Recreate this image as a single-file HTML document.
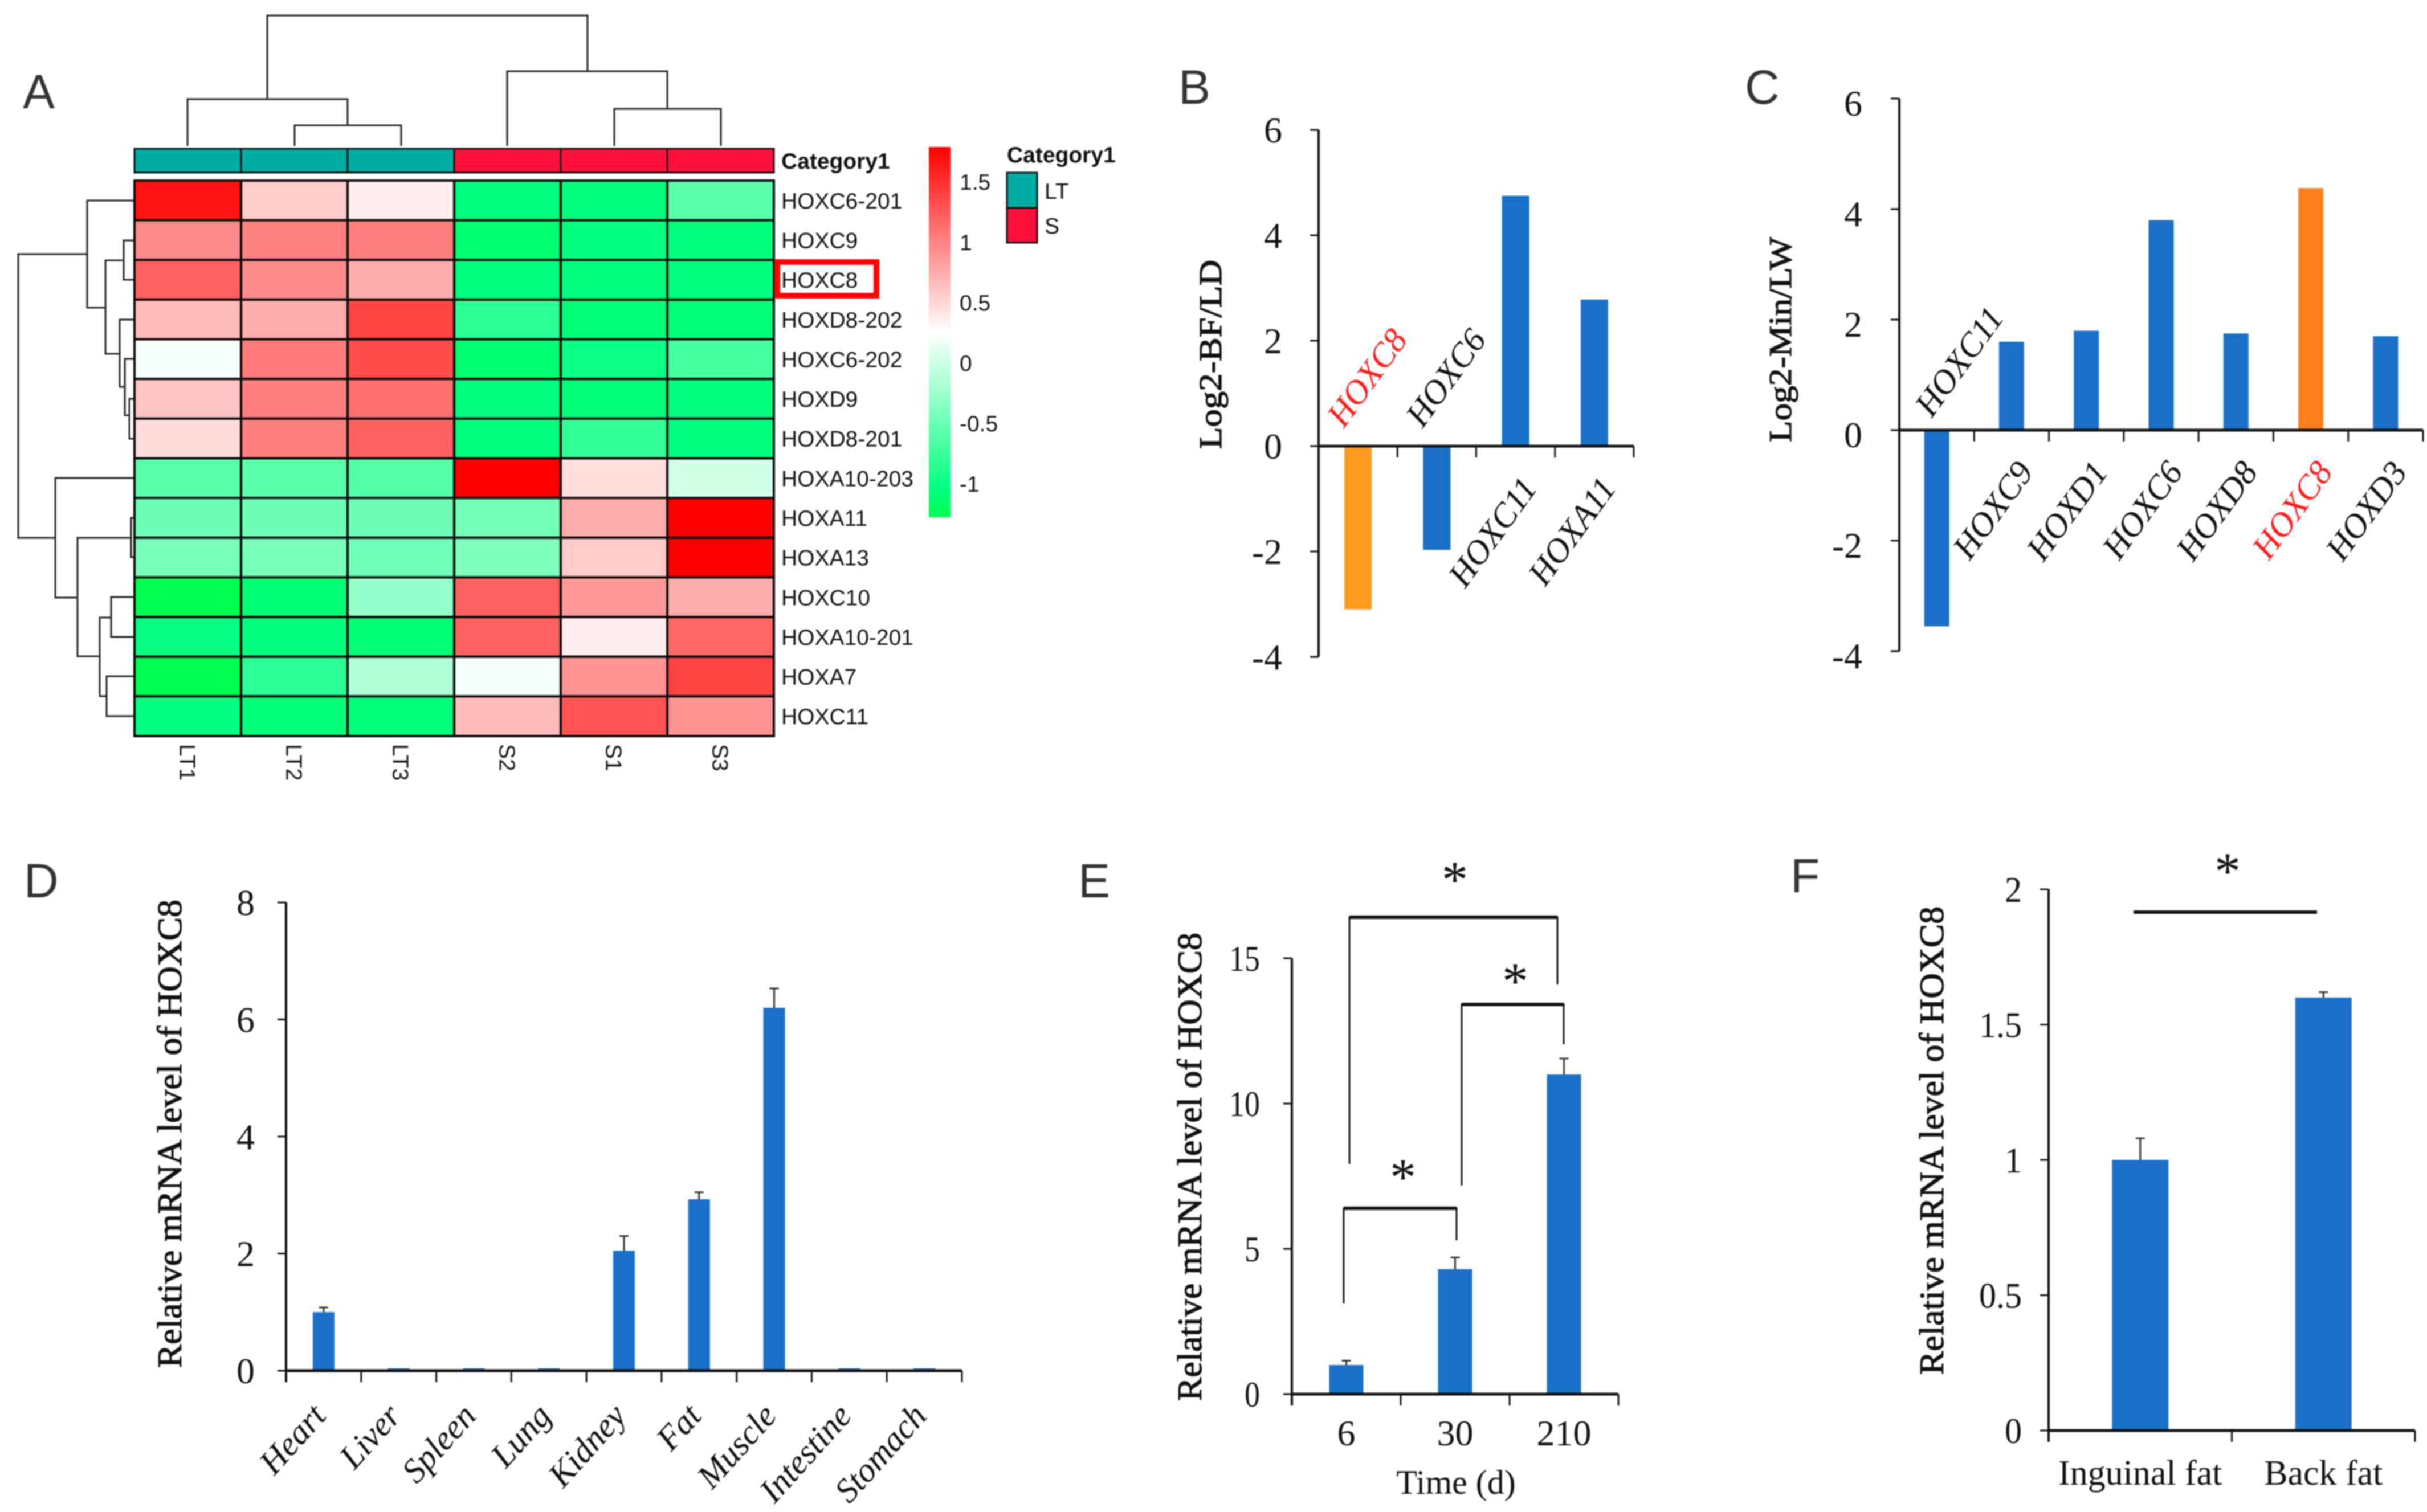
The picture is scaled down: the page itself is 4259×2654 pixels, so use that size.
<!DOCTYPE html>
<html lang="en">
<head>
<meta charset="utf-8">
<title>HOXC8 expression figure</title>
<style>
html,body{margin:0;padding:0;background:#fff;}
svg{display:block;filter:blur(1px);}
.letter{font-family:"Liberation Sans",sans-serif;font-size:84px;fill:#333;}
</style>
</head>
<body>
<svg id="figure" xmlns="http://www.w3.org/2000/svg" width="4259" height="2654" viewBox="0 0 4259 2654">
  <defs>
    <linearGradient id="heat-gradient" x1="0" y1="0" x2="0" y2="1">
      <stop offset="0" stop-color="#ff0000"/>
      <stop offset="0.5" stop-color="#ffffff"/>
      <stop offset="0.925" stop-color="#00ff7f"/>
      <stop offset="1" stop-color="#00ff50"/>
    </linearGradient>
  </defs>
  <rect width="4259" height="2654" fill="#fff"/>

  <text class="letter" x="40" y="190">A</text>
  <text class="letter" x="2068" y="182">B</text>
  <text class="letter" x="3062" y="182">C</text>
  <text class="letter" x="42" y="1575">D</text>
  <text class="letter" x="1892" y="1575">E</text>
  <text class="letter" x="3142" y="1566">F</text>

  <g>
    <path fill="none" stroke="#222" stroke-width="3"
      d="M469 174V27H1031V125M329 256V174H610V220M517 256V220H704V256M890 256V125H1171V191M1078 256V191H1265V256"/>
    <path fill="none" stroke="#222" stroke-width="3"
      d="M97 944H32V446H153M236 352H153V540H185M217 457H185V621H210M236 422H217V491H236M236 561H210V679H219M236 630H219V729H227M236 700H227V770H236M236 839H97V1049H136M230 944H136V1152H175M236 909H230V978H236M195 1084H175V1222H187M236 1048H195V1118H236M236 1187H187V1257H236"/>
    <g id="heat-annotation"></g>
    <g id="heat-cells"></g>
    <g id="heat-labels"></g>
    <rect x="1364" y="460" width="174" height="59" fill="none" stroke="#ff0000" stroke-width="10"/>
    <rect x="1630" y="258" width="38" height="650" fill="url(#heat-gradient)"/>
    <g id="heat-scale-labels"></g>
    <text x="1767" y="285" font-family="Liberation Sans, sans-serif" font-weight="bold" font-size="39" fill="#111">Category1</text>
    <rect x="1767" y="290" width="53" height="62" fill="#00ada3" stroke="#111" stroke-width="3" transform="translate(0 13)"/>
    <rect x="1767" y="365" width="53" height="61" fill="#ff103c" stroke="#111" stroke-width="3"/>
    <text x="1833" y="349" font-family="Liberation Sans, sans-serif" font-size="39" fill="#111">LT</text>
    <text x="1833" y="410" font-family="Liberation Sans, sans-serif" font-size="39" fill="#111">S</text>
  </g>

  <g id="panel-b"></g>
  <g id="panel-c"></g>
  <g id="panel-d"></g>
  <g id="panel-e"></g>
  <g id="panel-f"></g>

  <g font-family="Liberation Serif, serif" font-size="92" text-anchor="middle" fill="#111">
    <path fill="none" stroke="#111" stroke-width="3" d="M2368 2043V1610H2733V1728"/>
    <line x1="2368" x2="2733" y1="1610" y2="1610" stroke="#111" stroke-width="6"/>
    <path fill="none" stroke="#111" stroke-width="3" d="M2565 2081V1763H2744V1833"/>
    <line x1="2565" x2="2744" y1="1763" y2="1763" stroke="#111" stroke-width="6"/>
    <path fill="none" stroke="#111" stroke-width="3" d="M2358 2288V2121H2556V2177"/>
    <line x1="2358" x2="2556" y1="2121" y2="2121" stroke="#111" stroke-width="6"/>
    <text x="2553" y="1575">*</text>
    <text x="2659" y="1753">*</text>
    <text x="2462" y="2097">*</text>
  </g>
  <g font-family="Liberation Serif, serif" font-size="92" text-anchor="middle" fill="#111">
    <line x1="3744" x2="4066" y1="1601" y2="1601" stroke="#111" stroke-width="6"/>
    <text x="3909" y="1560">*</text>
  </g>
</svg>

<script>
/* ---------- Panel A data ---------- */
const heatRows = ["HOXC6-201","HOXC9","HOXC8","HOXD8-202","HOXC6-202","HOXD9","HOXD8-201","HOXA10-203","HOXA11","HOXA13","HOXC10","HOXA10-201","HOXA7","HOXC11"];
const heatCols = ["LT1","LT2","LT3","S2","S1","S3"];
const heatGroups = ["LT","LT","LT","S","S","S"];
const heatValues = [
  [1.67,0.56,0.36,-1.05,-1.05,-0.59],
  [0.94,1.00,1.02,-1.12,-1.03,-1.06],
  [1.20,0.94,0.74,-1.05,-1.05,-1.06],
  [0.66,0.75,1.37,-0.84,-1.08,-1.08],
  [0.20,1.05,1.32,-1.12,-1.00,-0.70],
  [0.60,1.02,1.10,-1.06,-1.08,-1.06],
  [0.46,1.02,1.20,-1.06,-0.79,-1.05],
  [-0.59,-0.59,-0.62,1.78,0.45,0.02],
  [-0.49,-0.49,-0.50,-0.47,0.75,1.78],
  [-0.44,-0.44,-0.48,-0.42,0.56,1.78],
  [-1.28,-1.10,-0.29,1.20,0.86,0.75],
  [-1.02,-1.05,-1.10,1.20,0.36,1.17],
  [-1.28,-0.84,-0.15,0.20,0.90,1.37],
  [-1.03,-1.08,-1.08,0.66,1.28,0.90]
];
const heatScaleTicks = [1.5,1,0.5,0,-0.5,-1];

/* ---------- Panel B data ---------- */
const bCategories = ["HOXC8","HOXC6","HOXC11","HOXA11"];
const bValues = [-3.1,-1.97,4.75,2.78];
const bTicks = [6,4,2,0,-2,-4];

/* ---------- Panel C data ---------- */
const cCategories = ["HOXC11","HOXC9","HOXD1","HOXC6","HOXD8","HOXC8","HOXD3"];
const cValues = [-3.55,1.6,1.8,3.8,1.75,4.38,1.7];
const cTicks = [6,4,2,0,-2,-4];

/* ---------- Panel D data ---------- */
const dCategories = ["Heart","Liver","Spleen","Lung","Kidney","Fat","Muscle","Intestine","Stomach"];
const dValues = [1.0,0.04,0.04,0.04,2.05,2.93,6.2,0.04,0.04];
const dErrors = [0.08,0,0,0,0.25,0.12,0.33,0,0];
const dTicks = [8,6,4,2,0];

/* ---------- Panel E data ---------- */
const eCategories = ["6","30","210"];
const eValues = [1.0,4.3,11.0];
const eErrors = [0.15,0.4,0.55];
const eTicks = [15,10,5,0];

/* ---------- Panel F data ---------- */
const fCategories = ["Inguinal fat","Back fat"];
const fValues = [1.0,1.6];
const fErrors = [0.08,0.02];
const fTicks = [2,1.5,1,0.5,0];

const NS = "http://www.w3.org/2000/svg";
const SERIF = "Liberation Serif, serif";
const SANS = "Liberation Sans, sans-serif";
const BLUE = "#1a70c8";

function el(parent, tag, attrs) {
  const node = document.createElementNS(NS, tag);
  for (const k in attrs) node.setAttribute(k, attrs[k]);
  parent.appendChild(node);
  return node;
}
function txt(parent, str, attrs) {
  const node = el(parent, "text", attrs);
  node.textContent = str;
  return node;
}
function slug(s) {
  return String(s).toLowerCase().replace(/[^a-z0-9.-]+/g, "-");
}

/* ---------- heatmap ---------- */
function heatColor(v) {
  const mid = 0.25, span = 1.53, knee = 0.85;
  const t = Math.max(-1, Math.min(1, (v - mid) / span));
  if (t >= 0) {
    const c = Math.round(255 * (1 - t));
    return "rgb(255," + c + "," + c + ")";
  }
  const a = -t;
  if (a <= knee) {
    const f = a / knee;
    return "rgb(" + Math.round(255 * (1 - f)) + ",255," + Math.round(255 - 128 * f) + ")";
  }
  const f2 = (a - knee) / (1 - knee);
  return "rgb(0,255," + Math.round(127 - 47 * f2) + ")";
}
function drawHeatmap() {
  const left = 236, right = 1358, top = 317, bottom = 1292;
  const colX = i => left + (right - left) * i / heatCols.length;
  const rowY = i => top + (bottom - top) * i / heatRows.length;
  const cw = (right - left) / heatCols.length;
  const rh = (bottom - top) / heatRows.length;
  const annotation = document.getElementById("heat-annotation");
  const cells = document.getElementById("heat-cells");
  const labels = document.getElementById("heat-labels");

  heatGroups.forEach((g, c) => {
    const r = el(annotation, "rect", {x: colX(c), y: 261, width: cw, height: 42, fill: g === "LT" ? "#00ada3" : "#ff103c", stroke: "#111", "stroke-width": 3});
    
    
  });
  const catLabel = txt(labels, "Category1", {x: 1371, y: 296, "font-family": SANS, "font-weight": "bold", "font-size": 39, fill: "#111"});
  
  

  heatValues.forEach((row, r) => {
    row.forEach((v, c) => {
      const cell = el(cells, "rect", {x: colX(c), y: rowY(r), width: cw, height: rh, fill: heatColor(v), stroke: "#0a0a0a", "stroke-width": 4});
      
      
    });
    const rl = txt(labels, heatRows[r], {x: 1371, y: rowY(r) + rh / 2 + 14, "font-family": SANS, "font-size": 39, fill: "#111"});
    
    
  });
  heatCols.forEach((name, c) => {
    const cx = colX(c) + cw / 2;
    const cl = txt(labels, name, {x: cx - 14, y: 1306, "font-family": SANS, "font-size": 39, fill: "#111", transform: "rotate(90 " + (cx - 14) + " 1306)"});
    
    
  });
  const scaleY = v => 637 - v * 212;
  const scaleGroup = document.getElementById("heat-scale-labels");
  heatScaleTicks.forEach(v => {
    const t = txt(scaleGroup, String(v), {x: 1684, y: scaleY(v) + 14, "font-family": SANS, "font-size": 39, fill: "#111"});
    
    
  });
}

/* ---------- bar charts ---------- */
function drawBarChart(cfg) {
  const g = document.getElementById(cfg.id);
  const y = v => cfg.zero - v * cfg.unit;
  const band = (cfg.right - cfg.left) / cfg.categories.length;
  const x = i => cfg.left + band * (i + 0.5);

  /* bars */
  cfg.values.forEach((v, i) => {
    const y1 = Math.min(y(v), cfg.zero);
    const h = Math.abs(y(v) - cfg.zero);
    const bar = el(g, "rect", {x: x(i) - cfg.barWidth / 2, y: y1, width: cfg.barWidth, height: h, fill: cfg.barColors ? cfg.barColors(i) : BLUE});
    
    

    const err = cfg.errors ? cfg.errors[i] : 0;
    if (err > 0) {
      const cap = el(g, "path", {d: "M" + x(i) + " " + y(v) + "V" + y(v + err) + "m-8 0h16", fill: "none", stroke: "#333", "stroke-width": 3});
      
      
    }
  });

  /* axes */
  const axisBottom = Math.max(y(cfg.ticks[cfg.ticks.length - 1]), cfg.zero + (cfg.axisBelow || 0));
  const yAxis = el(g, "line", {x1: cfg.left, x2: cfg.left, y1: y(cfg.ticks[0]), y2: axisBottom, stroke: "#111", "stroke-width": 4});
  
  
  const xAxis = el(g, "line", {x1: cfg.left, x2: cfg.right, y1: cfg.zero, y2: cfg.zero, stroke: "#111", "stroke-width": 5});
  
  

  cfg.ticks.forEach(t => {
    const mark = el(g, "line", {x1: cfg.left - 15, x2: cfg.left, y1: y(t), y2: y(t), stroke: "#111", "stroke-width": 3});
    
    
    const attrs = {x: cfg.tickRight, y: y(t) + (cfg.tickDy || 22), "text-anchor": "end", "font-family": SERIF, "font-size": cfg.tickSize || 64, fill: "#111"};
    if (cfg.tickCharWidth) {
      attrs.textLength = String(t).replace(".", "").length * cfg.tickCharWidth + (String(t).includes(".") ? cfg.tickCharWidth * 0.5 : 0);
      attrs.lengthAdjust = "spacingAndGlyphs";
    }
    const label = txt(g, String(t), attrs);
    
    
  });
  for (let i = 0; i <= cfg.categories.length; i++) {
    const px = cfg.left + band * i;
    const mark = el(g, "line", {x1: px, x2: px, y1: cfg.zero, y2: cfg.zero + 20, stroke: "#111", "stroke-width": 3});
    
    
  }

  /* axis title */
  const tt = txt(g, cfg.title, {x: cfg.titleX, y: cfg.titleY, "text-anchor": "middle", "font-family": SERIF, "font-size": cfg.titleSize || 60, fill: "#111", stroke: "#111", "stroke-width": 1.2, textLength: cfg.titleLength, lengthAdjust: "spacingAndGlyphs", transform: "rotate(-90 " + cfg.titleX + " " + cfg.titleY + ")"});
  
  

  /* category labels */
  cfg.categories.forEach((name, i) => {
    const colour = cfg.labelColor ? cfg.labelColor(name) : "#111";
    let attrs;
    if (cfg.labelAngle) {
      const above = cfg.values[i] < 0 && cfg.flipNegative;
      const lx = x(i) + (above ? cfg.aboveDx : cfg.belowDx);
      const ly = cfg.zero + (above ? cfg.aboveDy : cfg.belowDy);
      attrs = {x: lx, y: ly, "text-anchor": above ? "start" : "end", "font-family": SERIF, "font-style": "italic", "font-size": cfg.labelSize, fill: colour, "dominant-baseline": "central", transform: "rotate(" + cfg.labelAngle + " " + lx + " " + ly + ")"};
    } else {
      attrs = {x: x(i) + (cfg.labelDx || 0), y: cfg.labelY, "text-anchor": "middle", "font-family": SERIF, "font-size": cfg.labelSize, fill: colour};
    }
    const l = txt(g, name, attrs);
    
    
  });
}

drawHeatmap();

drawBarChart({
  id: "panel-b", categories: bCategories, values: bValues, ticks: bTicks,
  zero: 783, unit: 92.5, left: 2314, right: 2867, barWidth: 48, tickRight: 2250,
  barColors: i => bCategories[i] === "HOXC8" ? "#ff9a1e" : BLUE,
  title: "Log2-BF/LD", titleX: 2143, titleY: 622, titleLength: 332, titleSize: 56,
  labelAngle: -54, labelSize: 60, flipNegative: true, aboveDx: -41, aboveDy: -42, belowDx: 24, belowDy: 62,
  labelColor: n => n === "HOXC8" ? "#ff1a1a" : "#111"
});
drawBarChart({
  id: "panel-c", categories: cCategories, values: cValues, ticks: cTicks,
  zero: 755, unit: 97, left: 3333, right: 4252, barWidth: 44, tickRight: 3268, tickDy: 30,
  barColors: i => cCategories[i] === "HOXC8" ? "#ff7f1e" : BLUE,
  title: "Log2-Min/LW", titleX: 3143, titleY: 596, titleLength: 360, titleSize: 56,
  labelAngle: -54, labelSize: 60, flipNegative: true, aboveDx: -25, aboveDy: -32, belowDx: 24, belowDy: 62,
  labelColor: n => n === "HOXC8" ? "#ff1a1a" : "#111"
});
drawBarChart({
  id: "panel-d", categories: dCategories, values: dValues, errors: dErrors, ticks: dTicks,
  zero: 2406, unit: 102.75, left: 502, right: 1688, barWidth: 38, tickRight: 447,
  title: "Relative mRNA level of HOXC8", titleX: 318, titleY: 1990, titleLength: 822,
  labelAngle: -48, labelSize: 60, belowDx: -8, belowDy: 68, axisBelow: 20
});
drawBarChart({
  id: "panel-e", categories: eCategories, values: eValues, errors: eErrors, ticks: eTicks,
  zero: 2447, unit: 51, left: 2267, right: 2840, barWidth: 60, tickRight: 2211, tickCharWidth: 27,
  title: "Relative mRNA level of HOXC8", titleX: 2108, titleY: 2048, titleLength: 822,
  labelSize: 64, labelY: 2537, axisBelow: 20
});
drawBarChart({
  id: "panel-f", categories: fCategories, values: fValues, errors: fErrors, ticks: fTicks,
  zero: 2511, unit: 475, left: 3595, right: 4238, barWidth: 99, tickRight: 3548, tickCharWidth: 30,
  title: "Relative mRNA level of HOXC8", titleX: 3410, titleY: 2002, titleLength: 822,
  labelSize: 62, labelY: 2606, axisBelow: 20
});

const panelE = document.getElementById("panel-e");
const timeTitle = txt(panelE, "Time (d)", {x: 2555, y: 2622, "text-anchor": "middle", "font-family": SERIF, "font-size": 60, fill: "#111"});


</script>
</body>
</html>
